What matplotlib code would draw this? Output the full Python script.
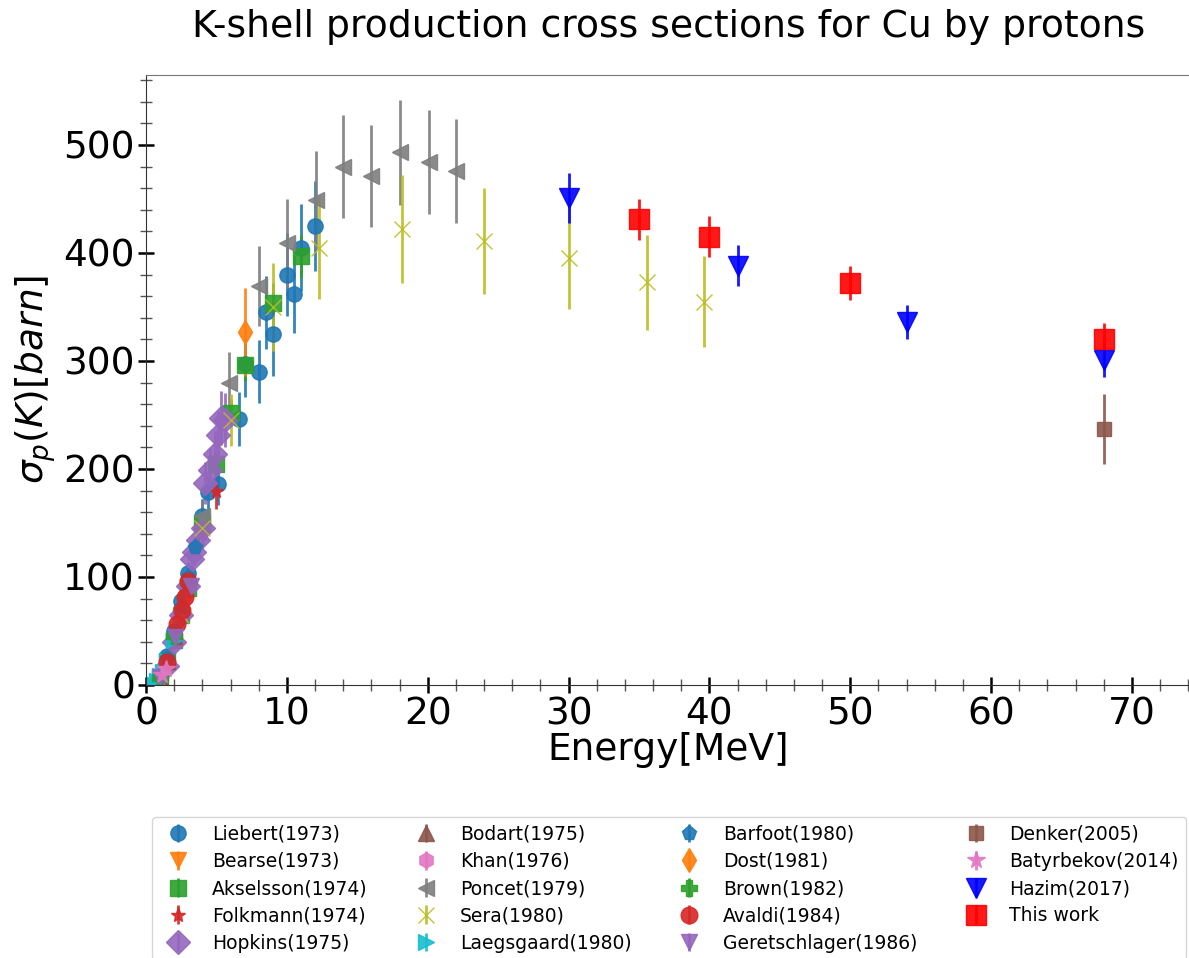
import matplotlib
matplotlib.use('Agg')
import matplotlib.pyplot as plt
from matplotlib.ticker import MultipleLocator

# energies [MeV], cross sections [barn], errors [barn]
liebert_e = [1.0, 1.5, 2.0, 2.5, 3.0, 4.0, 4.4, 5.1, 6.6, 7.0, 8.0, 8.5, 9.0, 10.0, 10.5, 11.0, 12.0]
liebert_s = [8, 27, 50, 78, 104, 156, 179, 186, 246, 297, 290, 345, 325, 380, 362, 405, 425]
liebert_err = [1, 3, 5, 8, 10, 16, 18, 19, 25, 30, 29, 34, 39, 38, 36, 40, 42]

bearse_e = [1.5, 2.0, 2.5, 3.0]
bearse_s = [20, 40, 62, 82]
bearse_err = [2, 4, 6, 8]

akselsson_e = [1.0, 1.5, 2.0, 2.5, 3.0, 4.0, 5.0, 6.0, 7.0, 9.0, 11.0]
akselsson_s = [6, 22, 42, 65, 90, 150, 205, 252, 296, 354, 397]
akselsson_err = [1, 1, 2, 3, 5, 8, 10, 13, 15, 18, 20]

folkmann_e = [1.0, 2.0, 3.0, 4.0, 5.0]
folkmann_s = [7, 40, 88, 140, 180]
folkmann_err = [1, 4, 9, 14, 17]

hopkins_e = [1.5, 2.0, 2.5, 3.0, 3.25, 3.4, 3.7, 4.05, 4.2, 4.55, 4.9, 5.1, 5.3, 5.6]
hopkins_s = [18, 40, 65, 92, 117, 123, 134, 145, 187, 199, 214, 231, 247, 245]
hopkins_err = [2, 4, 6, 9, 12, 12, 13, 15, 19, 20, 21, 23, 25, 25]

bodart_e = [1.0, 1.5, 2.0]
bodart_s = [7, 22, 45]
bodart_err = [1, 2, 4]

khan_e = [0.5, 0.75, 1.0, 1.25]
khan_s = [1, 3, 7, 14]
khan_err = [0.2, 0.4, 1, 2]

poncet_e = [4.0, 5.9, 8.0, 10.0, 12.1, 14.0, 16.0, 18.0, 20.1, 22.0]
poncet_s = [156, 280, 369, 409, 449, 480, 471, 493, 484, 476]
poncet_err = [16, 28, 37, 41, 45, 48, 47, 49, 48, 48]

sera_e = [2.5, 4.0, 6.0, 9.0, 12.25, 18.2, 24.0, 30.0, 35.6, 39.6]
sera_s = [65, 145, 245, 350, 405, 422, 411, 395, 373, 355]
sera_err = [6, 14, 24, 41, 48, 50, 49, 47, 44, 42]

laegsgaard_e = [0.5, 0.8, 1.0, 1.2, 1.5, 2.0]
laegsgaard_s = [1, 4, 8, 12, 22, 42]
laegsgaard_err = [0.1, 0.3, 0.6, 1, 2, 3]

barfoot_e = [1.0, 1.5, 2.0, 2.5, 3.0, 3.5]
barfoot_s = [8, 25, 48, 72, 100, 128]
barfoot_err = [1, 2, 4, 6, 8, 10]

dost_e = [7.0]
dost_s = [327]
dost_err = [41]

brown_e = [1.0, 2.0, 3.0]
brown_s = [6, 45, 95]
brown_err = [1, 4, 8]

avaldi_e = [1.5, 2.2, 2.55, 2.8, 3.0]
avaldi_s = [21, 56, 69, 81, 96]
avaldi_err = [2, 4, 5, 6, 7]

geretschlager_e = [1.0, 2.05, 3.2]
geretschlager_s = [7, 44, 92]
geretschlager_err = [1, 4, 9]

denker_e = [68]
denker_s = [237]
denker_err = [32]

batyrbekov_e = [1.1, 1.4]
batyrbekov_s = [9, 15]
batyrbekov_err = [1, 1.5]

hazim_e = [30, 42, 54, 68]
hazim_s = [451, 388, 336, 301]
hazim_err = [23, 19, 16, 16]

thiswork_e = [35, 40, 50, 68]
thiswork_s = [431, 415, 372, 320]
thiswork_err = [19, 19, 16, 15]

series = [
    ('Liebert(1973)', liebert_e, liebert_s, liebert_err, 'o', 'tab:blue', 11),
    ('Bearse(1973)', bearse_e, bearse_s, bearse_err, 'v', 'tab:orange', 11),
    ('Akselsson(1974)', akselsson_e, akselsson_s, akselsson_err, 's', 'tab:green', 11),
    ('Folkmann(1974)', folkmann_e, folkmann_s, folkmann_err, '*', 'tab:red', 11),
    ('Hopkins(1975)', hopkins_e, hopkins_s, hopkins_err, 'D', 'tab:purple', 12),
    ('Bodart(1975)', bodart_e, bodart_s, bodart_err, '^', 'tab:brown', 11),
    ('Khan(1976)', khan_e, khan_s, khan_err, 'h', 'tab:pink', 11),
    ('Poncet(1979)', poncet_e, poncet_s, poncet_err, '<', 'tab:gray', 12),
    ('Sera(1980)', sera_e, sera_s, sera_err, 'x', 'tab:olive', 12),
    ('Laegsgaard(1980)', laegsgaard_e, laegsgaard_s, laegsgaard_err, '>', 'tab:cyan', 11),
    ('Barfoot(1980)', barfoot_e, barfoot_s, barfoot_err, 'p', 'tab:blue', 11),
    ('Dost(1981)', dost_e, dost_s, dost_err, 'd', 'tab:orange', 12),
    ('Brown(1982)', brown_e, brown_s, brown_err, 'P', 'tab:green', 11),
    ('Avaldi(1984)', avaldi_e, avaldi_s, avaldi_err, 'o', 'tab:red', 12),
    ('Geretschlager(1986)', geretschlager_e, geretschlager_s, geretschlager_err, 'v', 'tab:purple', 12),
    ('Denker(2005)', denker_e, denker_s, denker_err, 's', 'tab:brown', 10),
    ('Batyrbekov(2014)', batyrbekov_e, batyrbekov_s, batyrbekov_err, '*', 'tab:pink', 13),
    ('Hazim(2017)', hazim_e, hazim_s, hazim_err, 'v', 'blue', 14),
    ('This work', thiswork_e, thiswork_s, thiswork_err, 's', 'red', 14),
]

fig = plt.figure(figsize=(11.89, 9.58), dpi=100)
ax = fig.add_axes([0.1228, 0.285, 0.879, 0.637])

for label, e, s, err, mk, col, ms in series:
    ax.errorbar(e, s, yerr=err, fmt=mk, color=col, ms=ms, elinewidth=2,
                ecolor=col, alpha=0.9, label=label, linestyle='none')

ax.set_xlim(0, 74.2)
ax.set_ylim(0, 565)
ax.xaxis.set_major_locator(MultipleLocator(10))
ax.xaxis.set_minor_locator(MultipleLocator(2))
ax.yaxis.set_major_locator(MultipleLocator(100))
ax.yaxis.set_minor_locator(MultipleLocator(20))
ax.tick_params(which='major', direction='inout', length=12, width=1.8, labelsize=27, pad=2)
ax.tick_params(which='minor', direction='inout', length=8, width=1, color='#555555')
ax.spines['right'].set_visible(False)
ax.spines['top'].set_color('#777777')
ax.spines['left'].set_color('#333333')
ax.spines['bottom'].set_color('#333333')

ax.set_xlabel('Energy[MeV]', fontsize=27, labelpad=0)
ax.set_ylabel(r'$\sigma_p(K)[barn]$', fontsize=27, labelpad=4)
ax.set_title('K-shell production cross sections for Cu by protons', fontsize=27.2, pad=27)

ax.legend(loc='upper left', bbox_to_anchor=(0.128, 0.147), bbox_transform=fig.transFigure,
          ncol=4, fontsize=13.5, columnspacing=2.1, labelspacing=0.44, borderaxespad=0)

fig.savefig('out.png', dpi=100)
